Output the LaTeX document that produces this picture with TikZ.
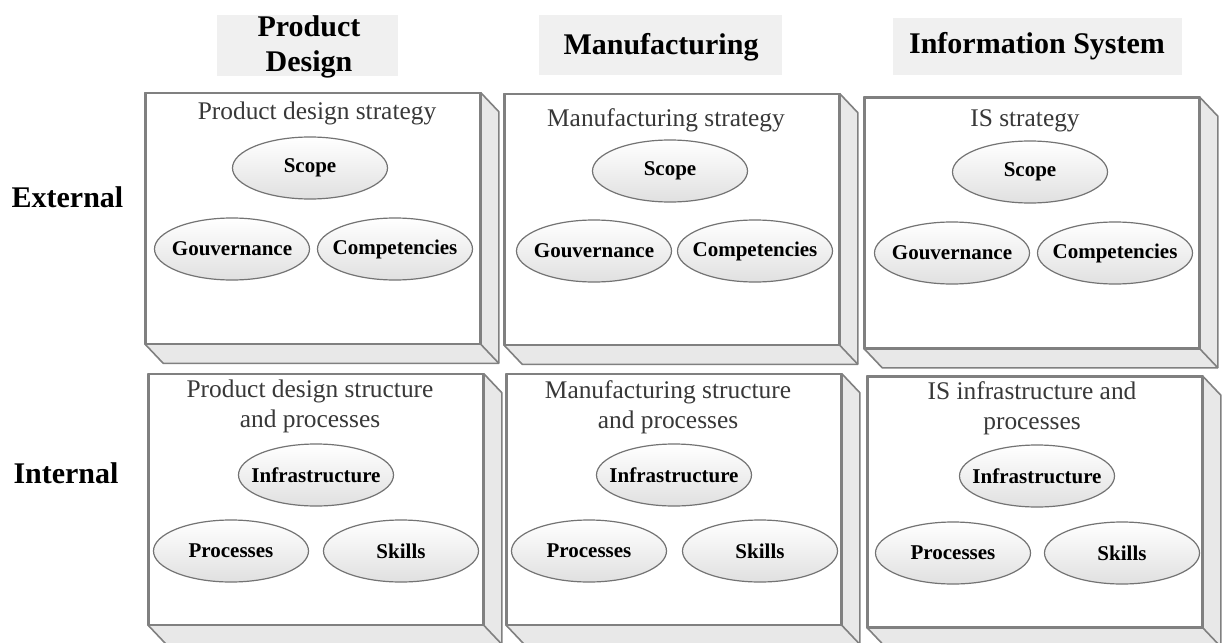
\documentclass[tikz,border=0pt]{standalone}
\usepackage{fontspec}
\setmainfont{Liberation Serif}
\usetikzlibrary{shapes.geometric,calc}
\tikzset{
  frontbox/.style={draw=black!50, line width=0.8pt, fill=white, minimum width=167pt, minimum height=125pt, inner sep=0pt},
  sideface/.style={fill=black!9},
  sideline/.style={draw=black!50, line width=0.8pt, line join=round},
  oval/.style={ellipse, draw=black!55, line width=0.6pt, top color=white, bottom color=black!12, minimum width=77.5pt, minimum height=31pt, inner sep=0pt,
    label={[font=\fontsize{10.5}{12}\selectfont\bfseries, inner sep=0pt]center:#1}},
  boxtitle/.style={text=black!78, align=center, font=\fontsize{12.7}{15}\selectfont},
  header/.style={fill=black!6, inner sep=0pt},
  headertext/.style={align=center, inner sep=0pt, font=\fontsize{15}{17.5}\selectfont\bfseries},
  rowlabel/.style={font=\fontsize{15}{17.5}\selectfont\bfseries},
}
\begin{document}
\begin{tikzpicture}[x=0.5pt, y=-0.5pt]
\useasboundingbox (0,0) rectangle (1225,642);
% headers
\node[header, minimum width=90.5pt, minimum height=30.5pt] (h1) at (307.5,45.5) {};
\node[headertext] (ht1) at (309,47) {Product\\Design};
\node[header, minimum width=121.5pt, minimum height=30pt] (h2) at (660.5,45) {};
\node[headertext] (ht2) at (661,47) {Manufacturing};
\node[header, minimum width=144.5pt, minimum height=28.5pt] (h3) at (1037.5,46.5) {};
\node[headertext] (ht3) at (1037,46) {Information System};
% row labels
\node[rowlabel] (ext) at (67.5,197) {External};
\node[rowlabel] (int) at (66,473) {Internal};
% front faces
\node[frontbox] (b11) at (313,218.5) {};
\node[frontbox] (b12) at (672,219.5) {};
\node[frontbox] (b13) at (1032,223) {};
\node[frontbox] (b21) at (316,499.5) {};
\node[frontbox] (b22) at (674,499.5) {};
\node[frontbox] (b23) at (1035,502) {};
% side faces
\foreach \b in {b11,b12,b13,b21,b22,b23}{
  \path[sideface] (\b.north east) -- ++(18,19) -- ($(\b.south east)+(18,19)$) -- ($(\b.south west)+(18,19)$) -- (\b.south west) -- (\b.south east) -- cycle;
  \draw[sideline] (\b.north east) -- ++(18,19) -- ($(\b.south east)+(18,19)$) -- ($(\b.south west)+(18,19)$) -- (\b.south west);
  \draw[sideline] (\b.south east) -- ++(18,19);
  \draw[sideline] (\b.south west) rectangle (\b.north east);
}
% row 1 contents
\node[boxtitle] (t11) at (317,113) {Product design strategy};
\node[oval=Scope] (s11) at (310,168) {};
\node[oval=Gouvernance] (g11) at (232,249) {};
\node[oval=Competencies] (c11) at (395,249) {};

\node[boxtitle] (t12) at (666,120) {Manufacturing strategy};
\node[oval=Scope] (s12) at (670,171) {};
\node[oval=Gouvernance] (g12) at (594,251) {};
\node[oval=Competencies] (c12) at (755,251) {};

\node[boxtitle] (t13) at (1025,121) {IS strategy};
\node[oval=Scope] (s13) at (1030,172) {};
\node[oval=Gouvernance] (g13) at (952,253) {};
\node[oval=Competencies] (c13) at (1115,253) {};
% row 2 contents
\node[boxtitle] (t21) at (310,406) {Product design structure\\and processes};
\node[oval=Infrastructure] (i21) at (316,475) {};
\node[oval=Processes] (p21) at (231,551) {};
\node[oval=Skills] (k21) at (401,551) {};

\node[boxtitle] (t22) at (668,407) {Manufacturing structure\\and processes};
\node[oval=Infrastructure] (i22) at (674,475) {};
\node[oval=Processes] (p22) at (589,551) {};
\node[oval=Skills] (k22) at (760,551) {};

\node[boxtitle] (t23) at (1032,408) {IS infrastructure and\\processes};
\node[oval=Infrastructure] (i23) at (1037,476) {};
\node[oval=Processes] (p23) at (953,553) {};
\node[oval=Skills] (k23) at (1122,553) {};
\end{tikzpicture}
\end{document}
